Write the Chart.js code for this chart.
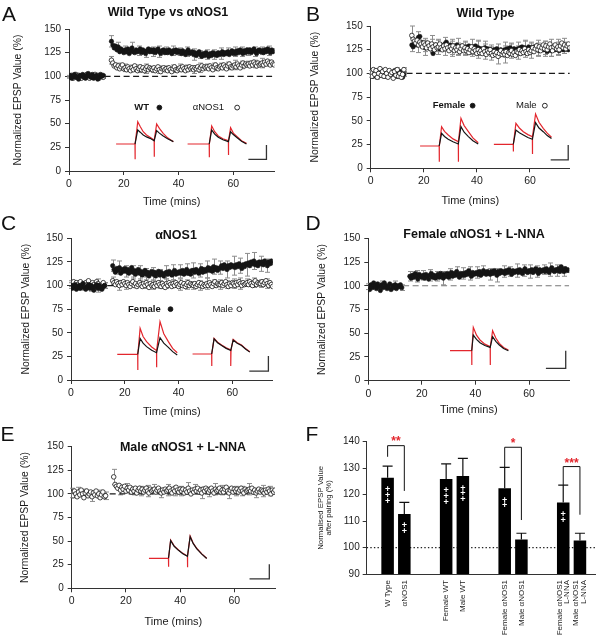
<!DOCTYPE html>
<html><head><meta charset="utf-8">
<script src="https://cdn.jsdelivr.net/npm/chart.js@4.4.1/dist/chart.umd.min.js"></script>
<style>
body{margin:0;background:#fff;}
#wrap{position:relative;width:604px;height:639px;overflow:hidden;font-family:'Liberation Sans',Arial,sans-serif;color:#111;background:#fff}
canvas{position:absolute}
.lt{position:absolute;font-size:21px;line-height:21px;transform:translate(-50%,-50%);white-space:nowrap}
.tt{position:absolute;font-size:12.5px;font-weight:bold;line-height:13px;white-space:nowrap;transform:translate(-50%,-50%);}
</style></head>
<body>
<div id="wrap">
<canvas id="cA" width="300" height="210" style="left:0;top:0"></canvas>
<canvas id="cB" width="304" height="210" style="left:300px;top:0"></canvas>
<canvas id="cC" width="300" height="210" style="left:0;top:210px"></canvas>
<canvas id="cD" width="304" height="210" style="left:300px;top:210px"></canvas>
<canvas id="cE" width="300" height="219" style="left:0;top:420px"></canvas>
<canvas id="cF" width="304" height="219" style="left:300px;top:420px"></canvas>
<div class="lt" style="left:9px;top:12.5px">A</div>
<div class="lt" style="left:313px;top:12.5px">B</div>
<div class="lt" style="left:8.5px;top:221.5px">C</div>
<div class="lt" style="left:313px;top:221.5px">D</div>
<div class="lt" style="left:7.5px;top:432.5px">E</div>
<div class="lt" style="left:312px;top:432.5px">F</div>
<div class="tt" style="left:168px;top:11.5px">Wild Type vs αNOS1</div>
<div class="tt" style="left:485.5px;top:12.5px">Wild Type</div>
<div class="tt" style="left:176px;top:235px">αNOS1</div>
<div class="tt" style="left:474px;top:233.5px">Female αNOS1 + L-NNA</div>
<div class="tt" style="left:183px;top:446.5px">Male αNOS1 + L-NNA</div>
</div>
<script>
// ---------------- DATA ----------------
const STEP = 0.5, BASE_T0 = 0, POST_T0 = 15.5, SEM_EVERY = 5;
const xTicks = [0, 20, 40, 60];
const yTicks = [0, 25, 50, 75, 100, 125, 150];

// Panel A : Wild Type vs aNOS1
const aWtBase = [99,101,98,100,102,99,100,97,101,100,102,99,98,101,103,100,99,102,98,100,101,97,99,102,100,101];
const aWtPost = [137,133,130,132,128,131,126,129,127,125, 128,126,129,124,127,130,126,125,128,126,
 127,129,125,128,126,124,127,129,126,128, 126,128,125,127,129,126,124,127,128,125,
 127,125,128,126,124,127,126,128,125,127, 126,124,127,125,123,126,128,124,125,126,
 123,125,122,124,126,123,121,124,122,125, 123,121,124,122,125,123,124,122,125,123,
 124,126,123,125,124,126,123,125,127,124, 126,124,127,125,128,126,124,127,125,128,
 126,128,125,127,129,126,124,127,128,126, 127,125,128,126,129,127,125,128,126,127];
const aWtSemBase = [1,1,1,1,1,1];
const aWtSemPost = [6,5,4,6,5,4,5,6,4,5,4,5,6,4,5,5,6,4,5,5,4,5,4,5];
const aNosBase = [100,99,101,98,100,102,99,101,100,98,101,100,99,102,100,98,101,99,100,102,99,101,98,100,101,99];
const aNosPost = [117,114,111,112,109,111,108,110,112,108, 109,107,110,108,106,109,107,111,108,106,
 108,110,107,109,106,108,110,107,109,108, 107,109,106,108,110,107,105,108,109,107,
 108,106,109,107,105,108,110,107,106,108, 109,107,110,108,106,109,107,110,108,109,
 107,109,108,110,107,109,111,108,110,109, 110,108,111,109,107,110,112,109,108,110,
 111,109,112,110,108,111,113,110,109,111, 112,110,113,111,109,112,114,111,113,112,
 113,111,114,112,115,113,111,114,112,113, 114,112,115,113,116,114,112,115,113,112];
const aNosSemBase = [1,1,1,1,1,1];
const aNosSemPost = [4,3,4,3,4,5,3,4,3,4,4,3,4,5,3,4,3,4,5,4,3,4,5,3];

// Panel B : Wild Type female / male
const bFemBase = [98,100,97,101,99,102,100,98,103,99,101,100,97,102,99,101,98,100,103,99,97,100,102,98,96,99];
const bFemPost = [130,128,132,131,130,138,139,133,129,131, 127,130,128,131,126,129,121,128,130,127,
 129,126,130,128,127,131,133,128,126,130, 128,126,129,127,130,126,128,125,129,127,
 126,128,125,129,127,124,128,126,129,125, 127,124,126,123,125,127,124,126,123,125,
 124,122,125,123,126,124,122,125,123,124, 125,123,126,124,127,125,123,126,124,125,
 126,124,127,128,125,127,124,126,128,125, 127,125,128,126,129,127,124,126,128,125,
 127,125,123,126,128,124,126,127,125,128, 126,124,127,129,125,127,126,128,125,127];
const bFemSemBase = [2,2,2,2,2,2];
const bFemSemPost = [7,6,8,7,6,7,8,6,7,6,8,7,6,7,8,6,7,7,6,8,7,6,7,6];
const bMaleBase = [101,97,104,99,103,96,100,105,98,102,97,104,100,96,103,99,101,95,102,98,104,97,100,96,99,104];
const bMalePost = [140,136,134,132,135,130,133,131,128,132, 130,127,132,129,126,131,128,125,130,127,
 128,131,127,125,129,126,130,127,124,128, 126,129,124,127,125,128,123,126,129,124,
 127,124,126,122,125,128,123,126,124,121, 125,122,124,121,126,123,120,124,122,125,
 121,119,123,120,122,118,121,124,120,122, 120,123,119,122,121,124,120,122,119,123,
 122,125,121,124,122,126,123,121,125,122, 124,127,123,126,129,125,128,124,127,130,
 126,129,125,128,131,127,124,128,130,126, 128,125,129,132,127,130,126,129,131,127];
const bMaleSemBase = [2,2,2,2,2,2];
const bMaleSemPost = [10,8,7,9,8,7,8,9,7,8,9,8,7,8,9,8,7,9,8,7,8,9,8,7];

// Panel C : aNOS1 female / male
const cFemBase = [100,97,99,101,96,98,100,97,99,102,98,96,99,101,97,100,98,95,99,101,97,100,98,96,99,100];
const cFemPost = [121,117,114,118,116,119,113,117,115,118, 115,117,113,116,119,114,116,112,115,117,
 113,115,111,114,116,112,114,110,113,115, 112,114,110,113,115,111,114,112,110,113,
 114,112,115,113,111,114,116,112,114,113, 115,113,116,112,114,117,113,115,112,116,
 116,114,117,115,113,116,118,114,117,115, 117,119,116,118,115,120,117,119,116,118,
 119,121,118,122,120,117,121,119,122,120, 121,119,122,120,123,121,118,122,120,123,
 122,124,121,125,123,126,122,124,121,125, 123,125,122,126,124,121,125,123,126,124];
const cFemSemBase = [3,3,3,3,4,3];
const cFemSemPost = [6,7,6,7,8,6,7,6,7,8,7,6,8,7,9,8,7,9,10,8,12,9,8,7];
const cMaleBase = [102,100,104,99,103,101,98,104,100,102,99,103,101,105,100,98,103,101,99,104,102,100,97,101,103,100];
const cMalePost = [105,103,101,104,102,100,103,101,104,102, 100,103,101,99,102,104,100,102,99,101,
 103,101,99,102,100,103,101,98,102,100, 101,99,102,100,103,101,99,102,100,98,
 102,100,103,101,99,102,100,103,101,99, 101,103,100,102,99,101,103,100,102,101,
 100,102,99,101,103,100,102,99,101,100, 102,100,103,101,99,102,104,100,102,101,
 101,103,100,102,104,101,99,102,100,103, 102,100,103,101,104,102,100,103,101,102,
 103,101,104,102,100,103,105,101,103,102, 102,104,101,103,105,102,100,103,101,99];
const cMaleSemBase = [3,4,3,4,5,3];
const cMaleSemPost = [4,5,4,5,4,6,5,4,5,4,6,5,4,5,6,4,5,4,5,6,4,5,4,5];

// Panel D : Female aNOS1 + L-NNA
const dFemBase = [99,96,101,98,103,100,97,102,99,95,101,98,103,100,97,99,102,96,100,98,101,97,100,99,101,98];
const dFemPost = [110,108,111,109,113,110,107,112,110,109, 111,108,112,110,107,111,113,109,111,108,
 110,112,109,113,111,108,112,110,113,109, 112,114,110,113,111,115,112,109,113,111,
 113,111,114,112,116,113,110,114,112,113, 114,112,115,111,113,116,114,112,115,113,
 112,115,113,116,114,111,115,113,116,114, 115,113,116,114,117,115,112,116,114,115,
 116,114,117,115,113,116,118,115,114,116, 115,117,114,116,118,115,113,117,115,116,
 117,115,118,116,114,117,119,116,115,117, 116,118,115,120,117,115,118,116,117,116];
const dFemSemBase = [3,3,4,3,4,3];
const dFemSemPost = [5,6,5,6,5,7,6,5,6,7,6,5,6,7,6,5,7,6,7,6,5,7,6,5];

// Panel E : Male aNOS1 + L-NNA
const eMaleBase = [101,98,103,100,97,102,99,104,100,96,101,103,98,100,102,97,101,99,103,98,100,96,99,102,97,98];
const eMalePost = [118,110,108,106,109,104,107,105,108,103, 106,104,107,102,105,103,106,101,104,106,
 103,105,102,104,106,103,101,105,103,104, 105,102,104,106,103,101,104,102,105,103,
 104,106,103,101,105,103,107,104,102,105, 103,105,101,104,102,106,103,100,104,102,
 105,103,106,102,104,101,105,103,106,104, 102,104,106,103,101,105,103,104,106,102,
 104,102,105,107,103,101,104,106,102,105, 103,105,102,104,106,103,101,105,103,104,
 105,103,106,102,104,101,103,105,102,104, 103,101,104,102,105,103,100,104,102,104];
const eMaleSemBase = [5,5,4,5,4,4];
const eMaleSemPost = [8,5,5,4,5,6,5,5,6,5,5,6,5,6,5,6,5,6,5,5,6,5,6,5];

// Inset example traces (schematic, in axis units) and scale bars
const aTraceWtRed = [[17.2,28.5],[24.1,28.5],[24.1,12.3],[24.2,28.5],[25.1,52.1],[26,47],[27.1,41.5],[28.3,38],[29.6,35.6],[31.1,32.7],[31.1,15.1],[31.2,33],[32.0,49.6],[33,45],[34.4,39.8],[36,35],[38.1,31]];
const aTraceWtBlk = [[24.1,28.5],[25.1,43.3],[26,41],[27.1,38],[28.3,36],[29.6,34.5],[31.1,32],[32.0,42.6],[33,40],[34.4,37],[36,34],[38.1,31]];
const aTraceNosRed = [[43.3,28.5],[51.2,28.5],[51.2,14.4],[51.3,28.5],[52.1,47.5],[53.2,41.5],[54.5,37],[56.2,34],[58.2,32],[58.2,16.9],[58.3,32],[59.0,45.8],[60,40],[61.4,36.3],[63,32],[64.8,29.2]];
const aTraceNosBlk = [[51.2,28.5],[52.1,43.3],[53.2,39],[54.5,35.6],[56.2,33],[58.2,31],[59.0,41.5],[60,38.5],[61.4,35.2],[63,31.5],[64.8,28.5]];
const aScaleBar = [[65.5,12.3],[72.1,12.3],[72.1,27.5]];

const bTraceFemRed = [[18.6,23.5],[25.8,23.5],[25.8,7],[25.9,23.5],[26.7,43.9],[27.8,39],[29.2,35.1],[31,31],[33,28.1],[33,7],[33.1,28.1],[34,52.7],[35.2,45],[36.8,38.6],[38.5,32],[40.5,27]];
const bTraceFemBlk = [[25.8,23.5],[26.7,36.9],[27.8,33.5],[29.2,30.6],[31,28],[33,25.6],[34,43.9],[35.2,38],[36.8,33.4],[38.5,29],[40.5,25.6]];
const bTraceMaleRed = [[46.4,25.3],[53.7,25.3],[53.7,17.6],[53.8,25.3],[54.7,47.4],[56,42.5],[57.5,38.6],[59.2,35.5],[60.9,33.4],[60.9,15.1],[61,33.4],[62.1,57.3],[63.4,48.5],[65,42.1],[66.5,37],[68.1,32.7]];
const bTraceMaleBlk = [[53.7,25.3],[54.7,40.4],[56,37.5],[57.5,35.1],[59.2,32.5],[60.9,30.6],[62.1,48.1],[63.4,42.5],[65,38.6],[66.5,34.5],[68.1,31.3]];
const bScaleBar = [[67.8,8.8],[74.4,8.8],[74.4,24.6]];

const cTraceFemRed = [[17.2,27.2],[24.8,27.2],[24.8,10.6],[24.9,27.2],[25.7,54.7],[26.8,46],[28.1,40.6],[30,35],[31.8,31.1],[31.8,13.4],[31.9,31.1],[33.1,61.8],[34.5,49],[36.2,40.6],[37.8,33.5],[39.5,28.9]];
const cTraceFemBlk = [[24.8,27.2],[25.7,44.1],[26.8,39],[28.1,35.3],[30,31.5],[31.8,28.9],[33.1,44.8],[34.5,39],[36.2,34.6],[37.8,30],[39.5,26.5]];
const cTraceMaleRed = [[45.2,27.5],[52.3,27.5],[52.3,14.8],[52.4,27.5],[53.2,44.1],[54.5,40],[56,37],[57.7,34],[59.4,31.8],[59.4,14.8],[59.5,31.8],[60.3,43],[61.8,39.5],[63.4,37],[65,33],[66.5,30]];
const cTraceMaleBlk = [[52.3,27.5],[53.2,43.5],[54.5,39.5],[56,36.5],[57.7,33.5],[59.4,31.3],[60.3,42.3],[61.8,39],[63.4,36.5],[65,32.5],[66.5,29.5]];
const cScaleBar = [[66.3,9.5],[73.4,9.5],[73.4,25.4]];

const dTraceRed = [[30.5,31.6],[38.6,31.6],[38.6,16.5],[38.7,31.6],[39.2,56.2],[40.4,48],[41.7,42.9],[43.5,38.5],[45.5,35.8],[45.5,16.5],[45.6,35.8],[46.4,52.7],[47.6,45],[48.9,39.3],[50.5,35],[52.3,32.3]];
const dTraceBlk = [[38.6,31.6],[39.2,48.1],[40.4,43.5],[41.7,40],[43.5,37],[45.5,35.1],[46.4,46.4],[47.6,41.5],[48.9,37.6],[50.5,34],[52.3,31.6]];
const dScaleBar = [[66.3,13],[73.7,13],[73.7,31.6]];

const eTraceRed = [[28.5,31.8],[35.7,31.8],[35.7,22.9],[35.8,31.8],[36.5,51.2],[37.8,45],[39.4,40.6],[41,37],[42.7,34.2],[42.7,22.2],[42.8,34.2],[43.7,55.4],[44.8,48],[46.1,42.4],[48,36.5],[49.8,31.8]];
const eTraceBlk = [[35.7,31.8],[36.5,50.5],[37.8,44.5],[39.4,40.2],[41,36.7],[42.7,34],[43.7,54.6],[44.8,47.5],[46.1,42],[48,36.2],[49.8,31.5]];
const eScaleBar = [[65.6,9.9],[72.9,9.9],[72.9,25.4]];

// Panel F : summary bars
const fGroups = [1, 2, 3, 4];
const fLabels = ['W Type', 'αNOS1', 'Female WT', 'Male WT', 'Female αNOS1', 'Male αNOS1', ['Female αNOS1', 'L-NNA'], ['Male αNOS1', 'L-NNA']];
const fLeftVals = [126.4, 125.9, 122.4, 117.0];
const fRightVals = [112.7, 127.0, 103.0, 102.7];
const fLeftSem = [4.4, 5.7, 7.9, 6.6];
const fRightSem = [4.4, 6.7, 2.4, 2.7];
const fLeftPlus = [3, 3, 2, 2];
const fRightPlus = [2, 3, 0, 0];
const fSig = [
  {group: 1, stars: '**', top: 138.5, left: 134.3, right: 121.4, starY: 141.2},
  {group: 3, stars: '*', top: 137.9, left: 130.4, right: 110.4, starY: 140.4},
  {group: 4, stars: '***', top: 130.6, left: 123.6, right: 112.4, starY: 132.9}
];
const fYTicks = [90, 100, 110, 120, 130, 140];

// ---------------- RENDERING ----------------
const FONT = "'Liberation Sans', Arial, sans-serif";
Chart.defaults.font.family = FONT;
Chart.defaults.color = '#222';
const RED = '#e3262d', INK = '#151515', AX = '#333';

function toPoints(base, post, semBase, semPost) {
  const pts = [];
  base.forEach((v, i) => pts.push({x: BASE_T0 + i * STEP, y: v, e: (i % SEM_EVERY === 0) ? semBase[i / SEM_EVERY] : null}));
  post.forEach((v, i) => pts.push({x: POST_T0 + i * STEP, y: v, e: (i % SEM_EVERY === 0) ? semPost[i / SEM_EVERY] : null}));
  return pts;
}
const xy = arr => arr.map(p => ({x: p[0], y: p[1]}));

const errPlugin = {
  id: 'errbars',
  beforeDatasetsDraw(chart) {
    const {ctx, scales: {x, y}} = chart;
    ctx.save();
    ctx.strokeStyle = '#8c8c8c'; ctx.lineWidth = 1;
    chart.data.datasets.forEach(ds => {
      if (!ds.isSeries) return;
      ds.data.forEach(p => {
        if (p.e == null) return;
        const px = Math.round(x.getPixelForValue(p.x)) + 0.5;
        const y1 = y.getPixelForValue(p.y + p.e), y2 = y.getPixelForValue(p.y - p.e);
        ctx.beginPath();
        ctx.moveTo(px, y1); ctx.lineTo(px, y2);
        ctx.moveTo(px - 2.5, y1); ctx.lineTo(px + 2.5, y1);
        ctx.moveTo(px - 2.5, y2); ctx.lineTo(px + 2.5, y2);
        ctx.stroke();
      });
    });
    ctx.restore();
  }
};
const legendPlugin = {
  id: 'insetlegend',
  afterDatasetsDraw(chart) {
    const items = chart.options.plugins.insetlegend.items || [];
    const {ctx, scales: {x, y}} = chart;
    ctx.save();
    items.forEach(it => {
      const px = x.getPixelForValue(it.x), py = y.getPixelForValue(it.y);
      if (it.text) {
        ctx.fillStyle = INK;
        ctx.font = (it.bold ? 'bold ' : '') + '9.5px ' + FONT;
        ctx.textAlign = 'center'; ctx.textBaseline = 'middle';
        ctx.fillText(it.text, px, py);
      } else {
        ctx.beginPath(); ctx.arc(px, py, 2.4, 0, Math.PI * 2);
        ctx.fillStyle = it.marker === 'filled' ? INK : '#fff';
        ctx.fill(); ctx.lineWidth = 0.9; ctx.strokeStyle = INK; ctx.stroke();
      }
    });
    ctx.restore();
  }
};

function timeChart(id, cfg) {
  const L = cfg.lay;
  const canvas = document.getElementById(id);
  const H = canvas.height, W = canvas.width;
  const datasets = [];
  const n = cfg.series.length;
  cfg.series.forEach((s, i) => {
    const filled = s.style === 'filled';
    datasets.push({
      isSeries: true,
      data: toPoints(s.base, s.post, s.semBase, s.semPost),
      pointRadius: filled ? 2.2 : 2.3, pointHoverRadius: 2.3,
      pointBackgroundColor: filled ? INK : '#fff',
      pointBorderColor: INK, pointBorderWidth: filled ? 0.6 : 0.8,
      showLine: false, order: n - 1 - i
    });
  });
  cfg.traces.forEach(t => datasets.push({
    data: xy(t.pts), showLine: true, pointRadius: 0, borderColor: t.color,
    borderWidth: t.width || 1.2, tension: 0, order: 10
  }));
  datasets.push({
    data: xy([[cfg.dashFrom, 100], [75, 100]]), showLine: true, pointRadius: 0,
    borderColor: cfg.dashColor || '#1a1a1a', borderWidth: 1.2, borderDash: [6, 3.5], order: 20
  });
  new Chart(canvas, {
    type: 'scatter',
    data: {datasets},
    options: {
      responsive: false, animation: false, devicePixelRatio: 1, events: [],
      layout: {padding: {left: 0, top: L.top, right: W - L.right, bottom: 0}},
      plugins: {legend: {display: false}, tooltip: {enabled: false}, insetlegend: {items: cfg.legend || []}},
      scales: {
        x: {
          type: 'linear', min: 0, max: 75,
          afterBuildTicks: s => { s.ticks = xTicks.map(v => ({value: v})); },
          afterFit: s => { s.height = H - L.bottom; },
          grid: {display: true, drawOnChartArea: false, drawTicks: true, tickLength: 4, color: AX, tickColor: AX},
          border: {display: true, color: AX, width: 1},
          ticks: {font: {size: 10.5}, color: '#222', padding: 3, maxRotation: 0},
          title: {display: true, text: 'Time (mins)', font: {size: 11}, color: '#1a1a1a',
                  padding: {top: 0, bottom: H - (L.bottom + L.xt) - 6.6}}
        },
        y: {
          type: 'linear', min: 0, max: 150,
          afterBuildTicks: s => { s.ticks = yTicks.map(v => ({value: v})); },
          afterFit: s => { s.width = L.left; },
          grid: {display: true, drawOnChartArea: false, drawTicks: true, tickLength: 4, color: AX, tickColor: AX},
          border: {display: true, color: AX, width: 1},
          ticks: {font: {size: 10}, color: '#222', padding: 4},
          title: {display: true, text: 'Normalized EPSP Value (%)', font: {size: 10.4}, color: '#1a1a1a',
                  padding: {top: L.yt - 6.2, bottom: 0}}
        }
      }
    },
    plugins: [errPlugin, legendPlugin]
  });
}

timeChart('cA', {
  lay: {left: 69, right: 274.4, top: 29, bottom: 171, xt: 30.7, yt: 18.3},
  series: [
    {base: aNosBase, post: aNosPost, semBase: aNosSemBase, semPost: aNosSemPost, style: 'open'},
    {base: aWtBase, post: aWtPost, semBase: aWtSemBase, semPost: aWtSemPost, style: 'filled'}
  ],
  traces: [{pts: aTraceWtBlk, color: INK}, {pts: aTraceWtRed, color: RED}, {pts: aTraceNosBlk, color: INK}, {pts: aTraceNosRed, color: RED}, {pts: aScaleBar, color: '#333', width: 1.3}],
  dashFrom: 13,
  legend: [{text: 'WT', x: 26.5, y: 67, bold: true}, {marker: 'filled', x: 33, y: 67}, {text: 'αNOS1', x: 50.9, y: 67}, {marker: 'open', x: 61.4, y: 67}]
});
timeChart('cB', {
  lay: {left: 70.7, right: 269.8, top: 26, bottom: 168.3, xt: 32.7, yt: 15.5},
  series: [
    {base: bFemBase, post: bFemPost, semBase: bFemSemBase, semPost: bFemSemPost, style: 'filled'},
    {base: bMaleBase, post: bMalePost, semBase: bMaleSemBase, semPost: bMaleSemPost, style: 'open'}
  ],
  traces: [{pts: bTraceFemBlk, color: INK}, {pts: bTraceFemRed, color: RED}, {pts: bTraceMaleBlk, color: INK}, {pts: bTraceMaleRed, color: RED}, {pts: bScaleBar, color: '#333', width: 1.3}],
  dashFrom: 13.5,
  legend: [{text: 'Female', x: 29.5, y: 66, bold: true}, {marker: 'filled', x: 38.4, y: 66}, {text: 'Male', x: 58.6, y: 66}, {marker: 'open', x: 65.6, y: 66}]
});
timeChart('cC', {
  lay: {left: 71, right: 272.7, top: 28.3, bottom: 170, xt: 32.3, yt: 26.5},
  series: [
    {base: cMaleBase, post: cMalePost, semBase: cMaleSemBase, semPost: cMaleSemPost, style: 'open'},
    {base: cFemBase, post: cFemPost, semBase: cFemSemBase, semPost: cFemSemPost, style: 'filled'}
  ],
  traces: [{pts: cTraceFemBlk, color: INK}, {pts: cTraceFemRed, color: RED}, {pts: cTraceMaleBlk, color: INK}, {pts: cTraceMaleRed, color: RED}, {pts: cScaleBar, color: '#333', width: 1.3}],
  dashFrom: 13.5,
  legend: [{text: 'Female', x: 27.3, y: 75, bold: true}, {marker: 'filled', x: 37, y: 75}, {text: 'Male', x: 56.4, y: 75}, {marker: 'open', x: 62.6, y: 75}]
});
timeChart('cD', {
  lay: {left: 68.3, right: 269.2, top: 28.3, bottom: 170.7, xt: 29.5, yt: 21.7},
  series: [{base: dFemBase, post: dFemPost, semBase: dFemSemBase, semPost: dFemSemPost, style: 'filled'}],
  traces: [{pts: dTraceBlk, color: INK}, {pts: dTraceRed, color: RED}, {pts: dScaleBar, color: '#333', width: 1.3}],
  dashFrom: 13, dashColor: '#777'
});
timeChart('cE', {
  lay: {left: 71.7, right: 275, top: 26.7, bottom: 168.3, xt: 33.4, yt: 25},
  series: [{base: eMaleBase, post: eMalePost, semBase: eMaleSemBase, semPost: eMaleSemPost, style: 'open'}],
  traces: [{pts: eTraceBlk, color: INK}, {pts: eTraceRed, color: RED}, {pts: eScaleBar, color: '#333', width: 1.3}],
  dashFrom: 0
});

// ---- Panel F ----
const barDecor = {
  id: 'bardecor',
  beforeDatasetsDraw(chart) {
    const {ctx, chartArea: ca, scales: {y}} = chart;
    const py = y.getPixelForValue(100);
    ctx.save();
    ctx.strokeStyle = '#222'; ctx.lineWidth = 1.3; ctx.setLineDash([1.4, 2.2]);
    ctx.beginPath(); ctx.moveTo(ca.left, py); ctx.lineTo(ca.right, py); ctx.stroke();
    ctx.restore();
  },
  afterDatasetsDraw(chart) {
    const {ctx, chartArea: ca, scales: {y}} = chart;
    ctx.save();
    const bars = [];
    chart.data.datasets.forEach((ds, di) => {
      chart.getDatasetMeta(di).data.forEach((el, i) => {
        bars[i * 2 + di] = el;
        const top = y.getPixelForValue(ds.data[i].y + ds.sem[i]);
        ctx.strokeStyle = '#111'; ctx.lineWidth = 1.2; ctx.setLineDash([]);
        ctx.beginPath();
        ctx.moveTo(el.x, el.y); ctx.lineTo(el.x, top);
        ctx.moveTo(el.x - 5, top); ctx.lineTo(el.x + 5, top);
        ctx.stroke();
        ctx.fillStyle = '#fff'; ctx.font = 'bold 9px ' + FONT;
        ctx.textAlign = 'center'; ctx.textBaseline = 'middle';
        for (let k = 0; k < ds.plus[i]; k++) ctx.fillText('+', el.x, el.y + 12 + k * 5.7);
        const lab = fLabels[i * 2 + di];
        const lines = Array.isArray(lab) ? lab : [lab];
        ctx.save();
        ctx.translate(el.x, ca.bottom + 6);
        ctx.rotate(-Math.PI / 2);
        ctx.fillStyle = '#222'; ctx.font = '8px ' + FONT;
        ctx.textAlign = 'right'; ctx.textBaseline = 'middle';
        const lh = 7.8;
        lines.forEach((t, li) => ctx.fillText(t, 0, (li - (lines.length - 1) / 2) * lh));
        ctx.restore();
      });
    });
    fSig.forEach(s => {
      const g = fGroups.indexOf(s.group);
      const lx = bars[g * 2].x, rx = bars[g * 2 + 1].x;
      const yt = y.getPixelForValue(s.top);
      ctx.strokeStyle = '#111'; ctx.lineWidth = 1;
      ctx.beginPath();
      ctx.moveTo(lx, y.getPixelForValue(s.left)); ctx.lineTo(lx, yt);
      ctx.lineTo(rx, yt); ctx.lineTo(rx, y.getPixelForValue(s.right));
      ctx.stroke();
      ctx.fillStyle = RED; ctx.font = 'bold 12px ' + FONT;
      ctx.textAlign = 'center'; ctx.textBaseline = 'alphabetic';
      ctx.fillText(s.stars, (lx + rx) / 2, y.getPixelForValue(s.starY) + 6.8);
    });
    ctx.restore();
  }
};

(function () {
  const canvas = document.getElementById('cF');
  const H = canvas.height, W = canvas.width;
  const left = 66.7, right = 295, top = 21.7, bottom = 154;
  new Chart(canvas, {
    type: 'bar',
    data: {datasets: [
      {data: fGroups.map((g, i) => ({x: g, y: fLeftVals[i]})), sem: fLeftSem, plus: fLeftPlus,
       backgroundColor: '#000', borderWidth: 0, categoryPercentage: 0.571, barPercentage: 0.75},
      {data: fGroups.map((g, i) => ({x: g, y: fRightVals[i]})), sem: fRightSem, plus: fRightPlus,
       backgroundColor: '#000', borderWidth: 0, categoryPercentage: 0.571, barPercentage: 0.75}
    ]},
    options: {
      responsive: false, animation: false, devicePixelRatio: 1, events: [],
      layout: {padding: {left: 0, top: top, right: W - right, bottom: 0}},
      plugins: {legend: {display: false}, tooltip: {enabled: false}},
      scales: {
        x: {
          type: 'linear', min: 0.5, max: 4.4, offset: false,
          afterBuildTicks: s => { s.ticks = fGroups.map(v => ({value: v})); },
          afterFit: s => { s.height = H - bottom; },
          ticks: {display: false}, grid: {display: false},
          border: {display: true, color: AX, width: 1}
        },
        y: {
          type: 'linear', min: 90, max: 140,
          afterBuildTicks: s => { s.ticks = fYTicks.map(v => ({value: v})); },
          afterFit: s => { s.width = left; },
          grid: {display: true, drawOnChartArea: false, drawTicks: true, tickLength: 4, color: AX, tickColor: AX},
          border: {display: true, color: AX, width: 1},
          ticks: {font: {size: 10}, color: '#222', padding: 3},
          title: {display: true, text: ['Normalised EPSP Value', 'after pairing (%)'],
                  font: {size: 7.8, lineHeight: 1.0}, color: '#1a1a1a', padding: {top: 16.8, bottom: 0}}
        }
      }
    },
    plugins: [barDecor]
  });
})();
</script>
</body></html>
